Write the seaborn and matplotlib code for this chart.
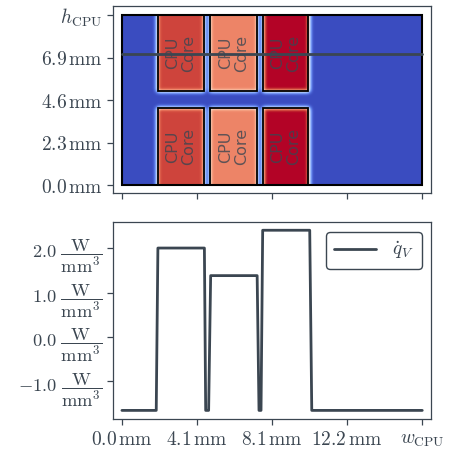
import numpy as np
import seaborn as sns
import matplotlib.pyplot as plt
from matplotlib.patches import Rectangle
from matplotlib.colors import PowerNorm

sns.set_theme(style="ticks")
plt.rcParams['mathtext.fontset'] = 'cm'
plt.rcParams['font.family'] = ['DejaVu Sans']

fg = '#3b4651'

# chip geometry in mm
w_cpu = 16.28
h_cpu = 9.2
core_x0 = [1.94, 4.77, 7.63]
core_x1 = [4.45, 7.31, 10.11]
core_y0 = [0.0, 5.08]
core_y1 = [4.15, 9.2]
core_q = [2.0, 1.38, 2.4]
q_base = -1.65
cut_y = 7.12

# heat source profile along the cut line
prof_x = [0.0, 1.86, 1.95, 4.47, 4.54, 4.70, 4.81, 7.33, 7.43, 7.54, 7.63, 10.18, 10.29, 16.28]
prof_q = [-1.65, -1.65, 2.0, 2.0, -1.65, -1.65, 1.38, 1.38, -1.65, -1.65, 2.4, 2.4, -1.65, -1.65]

x_ticks = np.linspace(0, w_cpu, 5)
x_labels = [r'$0.0\,\mathrm{mm}$', r'$4.1\,\mathrm{mm}$', r'$8.1\,\mathrm{mm}$',
            r'$12.2\,\mathrm{mm}$', r'$w_\mathrm{CPU}$']
y_ticks = np.linspace(0, h_cpu, 5)
y_labels = [r'$0.0\,\mathrm{mm}$', r'$2.3\,\mathrm{mm}$', r'$4.6\,\mathrm{mm}$',
            r'$6.9\,\mathrm{mm}$', r'$h_\mathrm{CPU}$']
q_ticks = [-1.0, 0.0, 1.0, 2.0]
q_labels = [r'$%.1f\ \dfrac{\mathrm{W}}{\mathrm{mm}^3}$' % v for v in q_ticks]

# field on a fine grid, slightly smoothed
step = 0.04
gx = np.arange(0, w_cpu, step) + step / 2
gy = np.arange(0, h_cpu, step) + step / 2
X, Y = np.meshgrid(gx, gy)
field = np.full(X.shape, q_base)
for x0, x1, q in zip(core_x0, core_x1, core_q):
    for y0, y1 in zip(core_y0, core_y1):
        field[(X >= x0) & (X <= x1) & (Y >= y0) & (Y <= y1)] = q
k = np.arange(-8, 9) * step
kern = np.exp(-0.5 * (k / 0.1) ** 2)
kern /= kern.sum()
n = len(k) // 2
field = np.pad(field, n, mode='edge')
field = np.apply_along_axis(lambda r: np.convolve(r, kern, mode='valid'), 1, field)
field = np.apply_along_axis(lambda c: np.convolve(c, kern, mode='valid'), 0, field)

fig = plt.figure(figsize=(4.49, 4.53), dpi=100)
ax1 = fig.add_axes([0.251, 0.573, 0.710, 0.414])
ax2 = fig.add_axes([0.251, 0.0744, 0.710, 0.435])

ax1.imshow(field, origin='lower', extent=(0, w_cpu, 0, h_cpu), cmap='coolwarm',
           norm=PowerNorm(0.77, vmin=q_base, vmax=max(core_q)),
           interpolation='bilinear', aspect='auto')
ax1.add_patch(Rectangle((0, 0), w_cpu, h_cpu, fill=False, ec='black', lw=1.5, zorder=3))
for x0, x1 in zip(core_x0, core_x1):
    for y0, y1 in zip(core_y0, core_y1):
        ax1.add_patch(Rectangle((x0, y0), x1 - x0, y1 - y0, fill=False,
                                ec='black', lw=1.3, zorder=3))
        ax1.text((x0 + x1) / 2, (y0 + y1) / 2, 'CPU\nCore', rotation=90,
                 ha='center', va='center', fontsize=11.5, color=fg, alpha=0.8,
                 linespacing=1.1, zorder=4)
ax1.plot([0, w_cpu], [cut_y, cut_y], color=fg, lw=2, zorder=5)
ax1.set_xlim(-0.5, w_cpu + 0.5)
ax1.set_ylim(-0.45, h_cpu + 0.5)
ax1.set_xticks(x_ticks)
ax1.set_xticklabels([])
ax1.set_yticks(y_ticks)
ax1.set_yticklabels(y_labels)

sns.lineplot(x=prof_x, y=prof_q, ax=ax2, color=fg, lw=2, label=r'$\dot{q}_V$',
             estimator=None, sort=False)
ax2.set_xlim(-0.5, w_cpu + 0.5)
ax2.set_ylim(-1.85, 2.58)
ax2.set_xticks(x_ticks)
ax2.set_xticklabels(x_labels)
ax2.set_yticks(q_ticks)
ax2.set_yticklabels(q_labels, fontsize=13.3)
ax2.legend(loc='upper right', fontsize=14, edgecolor=fg, fancybox=True,
           framealpha=1, handlelength=2.2, labelcolor=fg)

for ax in (ax1, ax2):
    for s in ax.spines.values():
        s.set_color(fg)
        s.set_linewidth(0.9)
    ax.tick_params(colors=fg, length=4, width=0.9)
ax1.tick_params(labelsize=14)
ax2.tick_params(axis='x', labelsize=14)

fig.savefig('out.png', dpi=100)
